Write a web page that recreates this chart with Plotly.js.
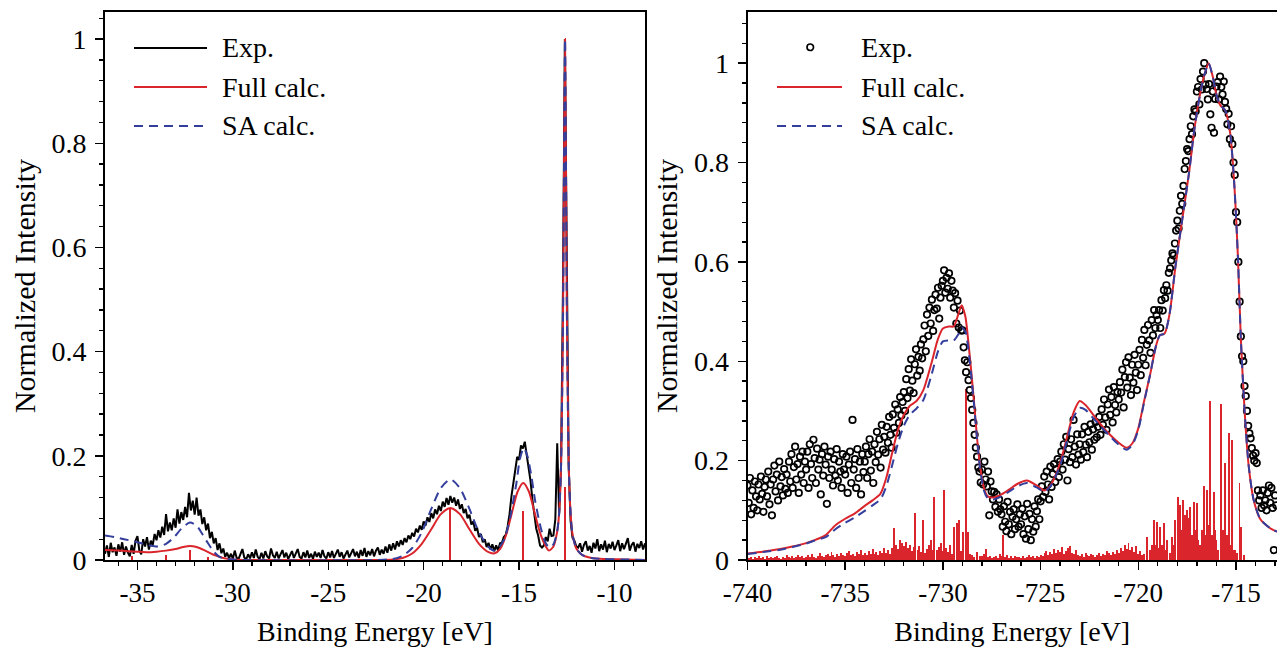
<!DOCTYPE html>
<html>
<head>
<meta charset="utf-8">
<script src="https://cdn.plot.ly/plotly-3.0.1.min.js"></script>
<style>html,body{margin:0;padding:0;background:#fff}#chart{width:1277px;height:647px}</style>
</head>
<body>
<div id="chart"></div>
<script>
// ---------- LEFT PANEL (valence) ----------
// Experimental spectrum: sampled every 0.1 eV starting at -36.7 eV
const leftExpStart = -36.7;
const leftExpStep = 0.1;
const leftExpY = [
  0.012,0.028,0.006,0.033,0.015,0.024,0.008,0.030,0.016,0.034,
  0.010,0.026,0.014,0.007,0.029,0.012,0.037,0.046,0.018,0.011,
  0.040,0.026,0.044,0.020,0.037,0.028,0.050,0.038,0.057,0.043,
  0.064,0.048,0.088,0.055,0.072,0.057,0.080,0.062,0.097,0.070,
  0.092,0.077,0.102,0.082,0.129,0.095,0.114,0.087,0.120,0.085,
  0.097,0.069,0.082,0.057,0.070,0.042,0.054,0.032,0.042,0.019,
  0.032,0.013,0.022,0.006,0.014,0.003,0.012,0.002,0.018,0.004,
  0.002,0.013,0.021,0.005,0.001,0.011,0.003,0.015,0.004,0.020,
  0.006,0.002,0.014,0.003,0.017,0.007,0.003,0.022,0.009,0.004,
  0.016,0.003,0.012,0.019,0.005,0.014,0.002,0.011,0.017,0.004,
  0.013,0.021,0.006,0.003,0.015,0.005,0.018,0.004,0.012,0.002,
  0.016,0.006,0.014,0.004,0.019,0.007,0.003,0.015,0.005,0.017,
  0.004,0.013,0.020,0.006,0.015,0.003,0.012,0.018,0.005,0.014,
  0.021,0.007,0.016,0.004,0.019,0.008,0.023,0.006,0.017,0.009,
  0.021,0.007,0.018,0.024,0.010,0.020,0.012,0.026,0.014,0.030,
  0.018,0.032,0.020,0.036,0.026,0.038,0.029,0.042,0.034,0.047,
  0.040,0.052,0.045,0.060,0.053,0.066,0.058,0.074,0.066,0.082,
  0.073,0.090,0.080,0.097,0.088,0.104,0.094,0.112,0.102,0.119,
  0.106,0.123,0.110,0.120,0.104,0.116,0.098,0.107,0.090,0.098,
  0.080,0.087,0.068,0.074,0.056,0.062,0.044,0.050,0.034,0.040,
  0.025,0.033,0.020,0.030,0.017,0.028,0.018,0.032,0.033,0.044,
  0.048,0.064,0.088,0.122,0.148,0.177,0.198,0.192,0.220,0.214,
  0.227,0.202,0.178,0.152,0.116,0.092,0.060,0.047,0.028,0.024,
  0.028,0.044,0.036,0.060,0.046,0.047,0.078,0.224,0.088,0.180,
  0.520,1.000,0.560,0.180,0.075,0.043,0.037,0.026,0.024,0.032,
  0.016,0.029,0.036,0.018,0.027,0.014,0.033,0.022,0.040,0.017,
  0.030,0.020,0.037,0.015,0.031,0.022,0.035,0.019,0.028,0.038,
  0.017,0.032,0.021,0.030,0.042,0.018,0.029,0.034,0.016,0.031,
  0.023,0.036,0.020,0.032
];

// Full calculation (left)
const leftFullX = [-36.7,-36,-35.5,-35,-34.5,-34,-33.5,-33,-32.6,-32.25,-31.9,-31.5,-31,-30.5,-30,-29,-28,-22.5,-21.6,-21.1,-20.6,-20.1,-19.6,-19.1,-18.6,-18.1,-17.6,-17.1,-16.6,-16.28,-15.98,-15.68,-15.38,-15.08,-14.78,-14.48,-14.18,-13.88,-13.6,-13.43,-13.2,-13.0,-12.9,-12.8,-12.7,-12.59,-12.5,-12.4,-12.3,-12.2,-12.0,-11.7,-11.2,-10.5,-9.5,-8.4];
const leftFullY = [0.019,0.018,0.017,0.016,0.015,0.016,0.018,0.021,0.025,0.027,0.025,0.019,0.010,0.004,0.001,0.0,0.0,0.0,0.001,0.004,0.0125,0.031,0.059,0.088,0.100,0.088,0.059,0.031,0.015,0.013,0.022,0.048,0.090,0.131,0.148,0.131,0.090,0.050,0.026,0.018,0.026,0.055,0.090,0.180,0.450,1.000,0.500,0.190,0.090,0.050,0.022,0.010,0.004,0.002,0.001,0.0];

// SA calculation (left)
const leftSAX = [-36.7,-36.2,-35.7,-35.2,-34.7,-34.2,-33.9,-33.5,-33.1,-32.7,-32.25,-31.9,-31.6,-31.3,-31.0,-30.7,-30.3,-29.5,-22.5,-21.6,-21.1,-20.6,-20.1,-19.6,-19.1,-18.6,-18.1,-17.6,-17.1,-16.6,-16.3,-16.05,-15.75,-15.45,-15.15,-14.95,-14.75,-14.55,-14.35,-14.15,-13.85,-13.6,-13.4,-13.2,-13.0,-12.9,-12.8,-12.7,-12.59,-12.5,-12.4,-12.3,-12.2,-12.0,-11.7,-11.2,-10.5,-9.5,-8.4];
const leftSAY = [0.047,0.044,0.040,0.036,0.031,0.027,0.026,0.031,0.043,0.060,0.072,0.066,0.050,0.032,0.016,0.006,0.002,0.0,0.0,0.002,0.008,0.023,0.053,0.098,0.138,0.155,0.138,0.098,0.053,0.025,0.018,0.024,0.042,0.085,0.145,0.195,0.215,0.198,0.160,0.112,0.060,0.032,0.024,0.030,0.056,0.090,0.180,0.450,1.000,0.500,0.190,0.090,0.050,0.022,0.010,0.004,0.002,0.001,0.0];

// Stick spectrum (left)
const leftStickX = [-35.3,-33.5,-32.25,-31.3,-18.62,-14.78,-12.59];
const leftStickY = [0.007,0.010,0.020,0.006,0.100,0.094,0.140];

// ---------- RIGHT PANEL (core level) ----------
// Experimental points: sampled every 0.0625 eV starting at -740 eV
const rightExpStart = -740;
const rightExpStep = 0.0625;
const rightExpY = [
  0.150,0.115,0.165,0.092,0.140,0.105,0.158,0.128,0.100,0.152,0.122,0.168,0.133,0.097,0.147,0.162,
  0.128,0.178,0.112,0.152,0.090,0.162,0.190,0.138,0.172,0.120,0.198,0.148,0.167,0.130,0.183,0.143,
  0.172,0.135,0.198,0.158,0.213,0.145,0.187,0.228,0.162,0.193,0.135,0.208,0.172,0.218,0.155,0.198,
  0.182,0.218,0.145,0.233,0.193,0.165,0.242,0.205,0.155,0.224,0.182,0.202,0.132,0.213,0.170,0.228,
  0.192,0.113,0.208,0.165,0.218,0.182,0.150,0.203,0.170,0.223,0.160,0.198,0.178,0.145,0.213,0.182,
  0.172,0.208,0.135,0.192,0.218,0.155,0.282,0.182,0.203,0.145,0.223,0.165,0.198,0.132,0.213,0.177,
  0.198,0.228,0.165,0.213,0.243,0.180,0.218,0.155,0.233,0.197,0.258,0.212,0.243,0.186,0.272,0.222,
  0.248,0.216,0.268,0.236,0.288,0.252,0.226,0.293,0.266,0.313,0.256,0.303,0.276,0.328,0.291,0.318,
  0.338,0.300,0.364,0.326,0.384,0.341,0.404,0.361,0.336,0.394,0.424,0.371,0.409,0.381,0.434,0.406,
  0.444,0.472,0.420,0.494,0.451,0.508,0.476,0.524,0.461,0.503,0.534,0.506,0.548,0.486,0.528,0.552,
  0.562,0.583,0.538,0.568,0.546,0.577,0.528,0.562,0.542,0.508,0.537,0.476,0.522,0.468,0.502,0.462,
  0.462,0.428,0.402,0.378,0.398,0.362,0.342,0.326,0.302,0.276,0.252,0.226,0.208,0.186,0.178,0.156,
  0.182,0.152,0.198,0.162,0.148,0.178,0.090,0.158,0.138,0.122,0.137,0.107,0.132,0.097,0.122,0.102,
  0.092,0.067,0.108,0.077,0.058,0.117,0.072,0.097,0.052,0.087,0.102,0.062,0.082,0.112,0.067,0.092,
  0.072,0.103,0.052,0.088,0.043,0.113,0.062,0.093,0.040,0.082,0.057,0.108,0.067,0.098,0.122,0.082,
  0.118,0.148,0.127,0.168,0.137,0.178,0.152,0.122,0.188,0.147,0.173,0.193,0.157,0.183,0.203,0.167,
  0.198,0.218,0.182,0.233,0.202,0.248,0.160,0.223,0.197,0.243,0.207,0.282,0.228,0.192,0.253,0.212,
  0.233,0.202,0.253,0.217,0.268,0.232,0.207,0.258,0.237,0.273,0.222,0.263,0.242,0.278,0.247,0.268,
  0.288,0.252,0.303,0.272,0.323,0.287,0.262,0.313,0.343,0.292,0.328,0.277,0.348,0.312,0.297,0.338,
  0.323,0.358,0.337,0.383,0.307,0.368,0.398,0.347,0.408,0.367,0.332,0.393,0.357,0.413,0.377,0.342,
  0.393,0.423,0.372,0.443,0.407,0.463,0.392,0.433,0.473,0.442,0.417,0.483,0.452,0.503,0.467,0.493,
  0.483,0.503,0.467,0.523,0.502,0.543,0.527,0.553,0.542,0.578,0.587,0.603,0.617,0.613,0.637,0.663,
  0.683,0.667,0.703,0.733,0.717,0.753,0.787,0.803,0.827,0.823,0.847,0.873,0.857,0.893,0.907,0.903,
  0.943,0.952,0.917,0.968,0.947,0.983,1.000,0.957,0.948,0.927,0.958,0.897,0.870,0.943,0.860,0.928,
  0.953,0.962,0.927,0.973,0.952,0.937,0.963,0.922,0.908,0.877,0.898,0.847,0.873,0.837,0.800,0.775,
  0.700,0.680,0.600,0.520,0.450,0.410,0.400,0.350,0.330,0.300,0.270,0.255,0.245,0.225,0.210,0.200,
  0.215,0.195,0.140,0.120,0.130,0.105,0.140,0.110,0.120,0.100,0.135,0.150,0.115,0.145,0.105,0.020,
  0.130,0.110
];

// Full calculation (right)
const rightFullX = [-740,-739,-738.4,-737.7,-737,-736.5,-736,-735.5,-735,-734.5,-734,-733.6,-733.2,-732.9,-732.6,-732.3,-732,-731.7,-731.35,-731,-730.6,-730.25,-730,-729.7,-729.45,-729.2,-729.04,-728.85,-728.7,-728.55,-728.4,-728.25,-728.1,-727.9,-727.7,-727.4,-727.0,-726.6,-726.2,-725.7,-725.2,-724.8,-724.5,-724.0,-723.6,-723.3,-723.0,-722.7,-722.3,-721.9,-721.5,-721.0,-720.6,-720.3,-720.0,-719.7,-719.4,-719.1,-718.9,-718.65,-718.4,-718.1,-717.75,-717.4,-717.1,-716.75,-716.55,-716.4,-716.2,-716.0,-715.8,-715.55,-715.3,-715.1,-714.9,-714.75,-714.55,-714.35,-714.1,-713.75,-713.25,-712.9];
const rightFullY = [0.013,0.018,0.0215,0.027,0.034,0.041,0.050,0.070,0.083,0.094,0.109,0.120,0.133,0.165,0.215,0.262,0.292,0.310,0.320,0.342,0.394,0.445,0.466,0.470,0.470,0.496,0.513,0.490,0.440,0.380,0.315,0.245,0.190,0.145,0.128,0.126,0.132,0.142,0.153,0.160,0.150,0.140,0.150,0.195,0.255,0.298,0.320,0.312,0.292,0.272,0.254,0.236,0.226,0.235,0.265,0.320,0.372,0.430,0.452,0.456,0.495,0.590,0.685,0.780,0.875,0.955,0.985,1.000,0.975,0.937,0.915,0.905,0.860,0.765,0.610,0.445,0.295,0.190,0.122,0.082,0.064,0.057];

// SA calculation (right)
const rightSAX = rightFullX;
const rightSAY = [0.012,0.017,0.020,0.026,0.033,0.040,0.046,0.062,0.075,0.086,0.099,0.110,0.122,0.148,0.190,0.235,0.270,0.292,0.305,0.322,0.370,0.420,0.440,0.442,0.442,0.455,0.468,0.460,0.425,0.372,0.310,0.242,0.186,0.140,0.124,0.122,0.128,0.138,0.148,0.155,0.146,0.138,0.148,0.190,0.248,0.288,0.306,0.302,0.285,0.268,0.251,0.232,0.222,0.232,0.262,0.318,0.372,0.430,0.452,0.456,0.495,0.590,0.685,0.780,0.875,0.955,0.985,1.000,0.975,0.937,0.915,0.905,0.860,0.765,0.610,0.445,0.295,0.190,0.122,0.082,0.064,0.057];

// Stick spectrum (right)
const rightStickX = [
  -739.9,-739.8,-739.7,-739.6,-739.5,-739.4,-739.3,-739.2,-739.1,-739.0,
  -738.9,-738.8,-738.7,-738.6,-738.5,-738.4,-738.3,-738.2,-738.1,-738.0,
  -737.9,-737.8,-737.7,-737.6,-737.5,-737.4,-737.3,-737.2,-737.1,-737.0,
  -736.9,-736.8,-736.7,-736.6,-736.5,-736.4,-736.3,-736.2,-736.1,-736.0,
  -735.9,-735.8,-735.7,-735.6,-735.5,-735.4,-735.3,-735.2,-735.1,-735.0,
  -734.9,-734.8,-734.7,-734.6,-734.5,-734.4,-734.3,-734.2,-734.1,-734.0,
  -733.9,-733.8,-733.7,-733.6,-733.5,-733.4,-733.3,-733.2,-733.1,-733.0,
  -732.9,-732.8,-732.7,-732.6,-732.51,-732.4,-732.3,-732.2,-732.1,-732.0,-731.9,-731.8,-731.7,-731.6,-731.5,-731.44,-731.3,-731.2,-731.1,-731.04,
  -730.9,-730.8,-730.7,-730.6,-730.5,-730.44,-730.3,-730.2,-730.1,-730.0,-729.95,-729.85,-729.75,-729.65,-729.55,-729.44,-729.3,-729.16,-729.05,-728.96,
  -728.82,-728.73,-728.6,-728.5,-728.4,-728.24,-728.1,-728.0,-727.9,-727.79,-727.7,-727.6,-727.5,
  -727.4,-727.3,-727.2,-727.1,-727.0,-726.9,-726.8,-726.7,-726.6,-726.5,
  -726.4,-726.3,-726.2,-726.1,-726.0,-725.9,-725.8,-725.7,-725.6,-725.5,
  -725.4,-725.3,-725.2,-725.1,-725.0,-724.9,-724.8,-724.7,-724.6,-724.5,
  -724.4,-724.3,-724.2,-724.1,-724.0,-723.9,-723.8,-723.7,-723.6,-723.5,
  -723.4,-723.3,-723.2,-723.1,-723.0,-722.9,-722.8,-722.7,-722.6,-722.5,
  -722.4,-722.3,-722.2,-722.1,-722.0,-721.9,-721.8,-721.7,-721.6,-721.5,
  -721.4,-721.3,-721.2,-721.1,-721.0,-720.9,-720.8,-720.7,-720.6,-720.5,
  -720.4,-720.3,-720.2,-720.1,-720.0,-719.9,-719.8,
  -719.7,-719.55,-719.4,-719.3,-719.21,-719.12,-719.04,-718.95,-718.87,-718.78,-718.7,-718.6,-718.53,-718.4,-718.27,-718.18,-718.1,-717.98,-717.85,-717.78,
  -717.71,-717.6,-717.5,-717.42,-717.33,-717.25,-717.16,-717.08,-716.99,-716.92,-716.85,-716.75,-716.62,-716.55,-716.48,-716.41,-716.34,-716.22,-716.14,-716.07,
  -716.0,-715.9,-715.79,-715.72,-715.66,-715.54,-715.45,-715.37,-715.28,-715.2,-715.12,-715.05,-714.95,-714.82,-714.74,-714.6
];
const rightStickY = [
  0.004,0.007,0.003,0.006,0.005,0.008,0.004,0.006,0.003,0.009,
  0.005,0.007,0.004,0.006,0.008,0.005,0.003,0.007,0.005,0.010,
  0.006,0.004,0.008,0.005,0.007,0.011,0.006,0.009,0.004,0.007,
  0.010,0.006,0.012,0.007,0.005,0.009,0.014,0.008,0.006,0.010,
  0.013,0.008,0.016,0.010,0.007,0.012,0.009,0.015,0.011,0.008,
  0.014,0.018,0.010,0.013,0.009,0.016,0.012,0.020,0.011,0.015,
  0.010,0.018,0.013,0.022,0.012,0.016,0.010,0.019,0.014,0.024,
  0.015,0.020,0.012,0.025,0.064,0.030,0.022,0.040,0.035,0.028,0.037,0.025,0.030,0.018,0.026,0.094,0.020,0.028,0.017,0.080,
  0.015,0.022,0.030,0.040,0.021,0.127,0.020,0.026,0.035,0.018,0.141,0.024,0.016,0.030,0.012,0.067,0.074,0.080,0.018,0.057,
  0.345,0.057,0.012,0.010,0.007,0.017,0.009,0.008,0.012,0.023,0.006,0.008,0.005,
  0.007,0.009,0.005,0.012,0.008,0.050,0.006,0.010,0.005,0.008,
  0.004,0.009,0.006,0.007,0.004,0.008,0.005,0.007,0.010,0.006,
  0.008,0.005,0.009,0.006,0.011,0.008,0.014,0.018,0.010,0.016,
  0.012,0.022,0.014,0.020,0.016,0.026,0.012,0.019,0.024,0.028,
  0.015,0.013,0.020,0.011,0.009,0.013,0.007,0.015,0.010,0.008,
  0.012,0.010,0.006,0.011,0.015,0.009,0.013,0.011,0.018,0.014,
  0.010,0.016,0.012,0.020,0.015,0.024,0.018,0.030,0.022,0.035,
  0.020,0.026,0.016,0.028,0.013,0.018,0.010,
  0.012,0.047,0.020,0.030,0.080,0.030,0.077,0.025,0.067,0.030,0.075,0.020,0.040,0.015,0.047,0.030,0.080,0.127,0.110,0.060,
  0.121,0.090,0.100,0.085,0.107,0.050,0.117,0.060,0.114,0.040,0.030,0.060,0.149,0.050,0.141,0.070,0.320,0.050,0.137,0.060,
  0.040,0.020,0.313,0.040,0.060,0.196,0.050,0.255,0.030,0.241,0.020,0.020,0.015,0.154,0.067,0.010
];

// Tick labels
const leftTickVals = [-35,-30,-25,-20,-15,-10];
const leftTickText = ['-35','-30','-25','-20','-15','-10'];
const rightTickVals = [-740,-735,-730,-725,-720,-715];
const rightTickText = ['-740','-735','-730','-725','-720','-715'];

const seriesNames = ['Exp.','Full calc.','SA calc.'];
const axisTitleX = 'Binding Energy [eV]';
const axisTitleY = 'Normalized Intensity';

// ---------- build ----------
const leftExpX = leftExpY.map((_, i) => +(leftExpStart + i * leftExpStep).toFixed(3));
const rightExpX = rightExpY.map((_, i) => +(rightExpStart + i * rightExpStep).toFixed(4));

const RED = 'rgb(218,37,44)';
const BLUE = 'rgb(52,62,156)';
const FONT = 'Liberation Serif, Times New Roman, serif';

const traces = [
  {type:'bar', x:leftStickX, y:leftStickY, width:0.1, marker:{color:RED, line:{width:0}}, xaxis:'x', yaxis:'y', showlegend:false, hoverinfo:'skip'},
  {type:'bar', x:rightStickX, y:rightStickY, width:0.1, marker:{color:RED, line:{width:0}}, xaxis:'x2', yaxis:'y2', showlegend:false, hoverinfo:'skip'},
  {type:'scatter', mode:'lines', name:seriesNames[0], x:leftExpX, y:leftExpY, line:{color:'#000', width:2}, xaxis:'x', yaxis:'y', showlegend:false},
  {type:'scatter', mode:'lines', name:seriesNames[1], x:leftFullX, y:leftFullY, line:{color:RED, width:2, shape:'spline', smoothing:0.7}, xaxis:'x', yaxis:'y', showlegend:false},
  {type:'scatter', mode:'lines', name:seriesNames[2], x:leftSAX, y:leftSAY, line:{color:BLUE, width:2, dash:'9px,6px', shape:'spline', smoothing:0.7}, xaxis:'x', yaxis:'y', showlegend:false},
  {type:'scatter', mode:'markers', name:seriesNames[0], x:rightExpX, y:rightExpY, marker:{symbol:'circle-open', size:6.5, color:'#000', line:{width:1.7, color:'#000'}}, xaxis:'x2', yaxis:'y2', showlegend:false},
  {type:'scatter', mode:'lines', name:seriesNames[1], x:rightFullX, y:rightFullY, line:{color:RED, width:2, shape:'spline', smoothing:0.7}, xaxis:'x2', yaxis:'y2', showlegend:false},
  {type:'scatter', mode:'lines', name:seriesNames[2], x:rightSAX, y:rightSAY, line:{color:BLUE, width:2, dash:'9px,6px', shape:'spline', smoothing:0.7}, xaxis:'x2', yaxis:'y2', showlegend:false}
];

const W = 1277, H = 647;
const px = v => v / W;
const py = v => 1 - v / H;

const axisCommon = {
  showgrid:false, zeroline:false, showline:true, linecolor:'#000', linewidth:2,
  ticks:'outside', ticklen:8, tickwidth:1.5, tickcolor:'#000',
  tickfont:{family:FONT, size:27, color:'#000'},
  fixedrange:true
};

const yDomain = [1 - 560/H, 1 - 12/H];
const minorX = {tickmode:'linear', tick0:0, dtick:1, ticks:'outside', ticklen:4, tickwidth:1.3, tickcolor:'#000'};
const minorY = {tick0:0, dtick:0.04, ticks:'outside', ticklen:4, tickwidth:1.3, tickcolor:'#000'};

const layout = {
  width:W, height:H,
  margin:{l:0, r:0, t:0, b:0, pad:0},
  paper_bgcolor:'#fff', plot_bgcolor:'#fff',
  font:{family:FONT, color:'#000', size:28},
  showlegend:false,
  bargap:0,
  xaxis:Object.assign({}, axisCommon, {
    domain:[px(105), px(645)], range:[-36.7,-8.4], anchor:'y', mirror:true,
    tickmode:'array', tickvals:leftTickVals, ticktext:leftTickText, minor:minorX,
    title:{text:axisTitleX, font:{family:FONT, size:28, color:'#000'}, standoff:14}
  }),
  yaxis:Object.assign({}, axisCommon, {
    domain:yDomain, range:[0,1.052], anchor:'x', mirror:true,
    tick0:0, dtick:0.2, minor:minorY, ticklabelstandoff:3,
    tickfont:{family:FONT, size:28, color:'#000'},
    title:{text:axisTitleY, font:{family:FONT, size:30, color:'#000'}, standoff:7}
  }),
  xaxis2:Object.assign({}, axisCommon, {
    domain:[px(747.5), 1], range:[-740,-712.9], anchor:'y2', mirror:true,
    tickmode:'array', tickvals:rightTickVals, ticktext:rightTickText, minor:minorX,
    title:{text:axisTitleX, font:{family:FONT, size:28, color:'#000'}, standoff:14}
  }),
  yaxis2:Object.assign({}, axisCommon, {
    domain:yDomain, range:[0,1.103], anchor:'x2', mirror:false,
    tick0:0, dtick:0.2, minor:minorY, ticklabelstandoff:3,
    tickfont:{family:FONT, size:28, color:'#000'},
    title:{text:axisTitleY, font:{family:FONT, size:30, color:'#000'}, standoff:7}
  }),
  shapes:[
    {type:'line', xref:'paper', yref:'paper', x0:px(134), x1:px(207), y0:py(48), y1:py(48), line:{color:'#000', width:2}},
    {type:'line', xref:'paper', yref:'paper', x0:px(134), x1:px(207), y0:py(87), y1:py(87), line:{color:RED, width:2}},
    {type:'line', xref:'paper', yref:'paper', x0:px(134), x1:px(207), y0:py(126), y1:py(126), line:{color:BLUE, width:2, dash:'9px,6px'}},
    {type:'circle', xref:'paper', yref:'paper', x0:px(807), x1:px(813.5), y0:py(50.5), y1:py(44), line:{color:'#000', width:1.7}},
    {type:'line', xref:'paper', yref:'paper', x0:px(777), x1:px(842), y0:py(87), y1:py(87), line:{color:RED, width:2}},
    {type:'line', xref:'paper', yref:'paper', x0:px(777), x1:px(842), y0:py(126), y1:py(126), line:{color:BLUE, width:2, dash:'9px,6px'}}
  ],
  annotations:[
    {xref:'paper', yref:'paper', x:px(220), y:py(48), xanchor:'left', yanchor:'middle', text:seriesNames[0], showarrow:false, font:{family:FONT, size:28, color:'#000'}},
    {xref:'paper', yref:'paper', x:px(220), y:py(87), xanchor:'left', yanchor:'middle', text:seriesNames[1], showarrow:false, font:{family:FONT, size:28, color:'#000'}},
    {xref:'paper', yref:'paper', x:px(220), y:py(126), xanchor:'left', yanchor:'middle', text:seriesNames[2], showarrow:false, font:{family:FONT, size:28, color:'#000'}},
    {xref:'paper', yref:'paper', x:px(859), y:py(48), xanchor:'left', yanchor:'middle', text:seriesNames[0], showarrow:false, font:{family:FONT, size:28, color:'#000'}},
    {xref:'paper', yref:'paper', x:px(859), y:py(87), xanchor:'left', yanchor:'middle', text:seriesNames[1], showarrow:false, font:{family:FONT, size:28, color:'#000'}},
    {xref:'paper', yref:'paper', x:px(859), y:py(126), xanchor:'left', yanchor:'middle', text:seriesNames[2], showarrow:false, font:{family:FONT, size:28, color:'#000'}}
  ]
};

Plotly.newPlot('chart', traces, layout, {staticPlot:true, displayModeBar:false});
</script>
</body>
</html>
